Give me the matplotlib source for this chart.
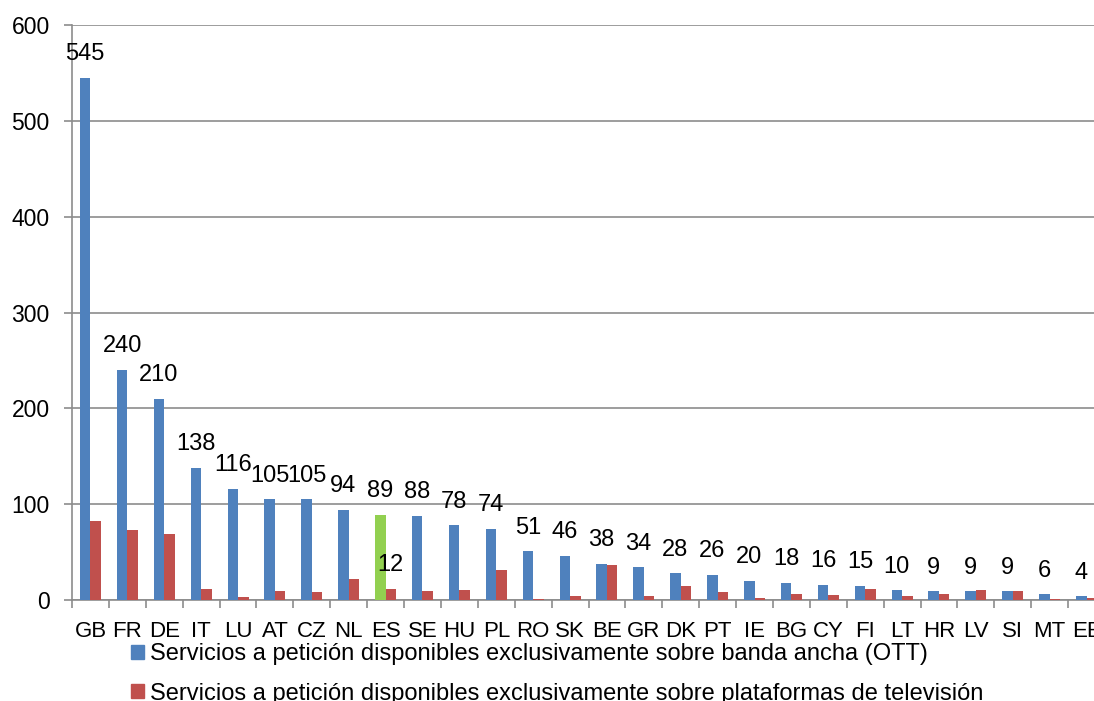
import numpy as np
import matplotlib.pyplot as plt
from matplotlib.patches import Patch

countries = ['GB', 'FR', 'DE', 'IT', 'LU', 'AT', 'CZ', 'NL', 'ES', 'SE', 'HU', 'PL', 'RO', 'SK',
             'BE', 'GR', 'DK', 'PT', 'IE', 'BG', 'CY', 'FI', 'LT', 'HR', 'LV', 'SI', 'MT', 'EE']
ott = [545, 240, 210, 138, 116, 105, 105, 94, 89, 88, 78, 74, 51, 46,
       38, 34, 28, 26, 20, 18, 16, 15, 10, 9, 9, 9, 6, 4]
tv = [82, 73, 69, 12, 3, 9, 8, 22, 12, 9, 10, 31, 1, 4,
      37, 4, 15, 8, 2, 6, 5, 12, 4, 6, 10, 9, 1, 2]
series_names = ['Servicios a petición disponibles exclusivamente sobre banda ancha (OTT)',
                'Servicios a petición disponibles exclusivamente sobre plataformas de televisión']

blue = '#4F81BD'
red = '#C0504D'
green = '#92D050'
grid = '#8C8C8C'

plt.rcParams['font.family'] = ['Liberation Sans', 'DejaVu Sans']

fig = plt.figure(figsize=(10.94, 7.01), dpi=100)
ax = fig.add_axes([72 / 1094, 101 / 701, 1033 / 1094, 575 / 701])

x = np.arange(len(countries))
w = 0.285
colors = [green if c == 'ES' else blue for c in countries]
ax.bar(x - w / 2, ott, w, color=colors, zorder=3)
ax.bar(x + w / 2, tv, w, color=red, zorder=3)

for i, v in enumerate(ott):
    ax.annotate(str(v), (x[i] - w / 2, v), xytext=(0, 17), textcoords='offset points',
                ha='center', va='center', fontsize=17)
i = countries.index('ES')
ax.annotate(str(tv[i]), (x[i] + w / 2, tv[i]), xytext=(0, 17), textcoords='offset points',
            ha='center', va='center', fontsize=17)

ax.set_xlim(-0.5, len(countries) - 0.5)
ax.set_ylim(0, 600)
ax.set_yticks(np.arange(0, 601, 100))
ax.yaxis.grid(True, color=grid, linewidth=1.2, zorder=0)
ax.tick_params(axis='y', labelsize=16.5, length=6, color=grid, width=1.2, pad=10)

ax.set_xticks(x)
ax.set_xticklabels(countries, fontsize=16)
ax.set_xticks(np.arange(-0.5, len(countries)), minor=True)
ax.tick_params(axis='x', which='major', length=0, pad=15)
ax.tick_params(axis='x', which='minor', length=6, color=grid, width=1.2)

for s in ['top', 'right']:
    ax.spines[s].set_visible(False)
for s in ['left', 'bottom']:
    ax.spines[s].set_color(grid)
    ax.spines[s].set_linewidth(1.2)

handles = [Patch(color=blue), Patch(color=red)]
fig.legend(handles, series_names, loc='upper left', bbox_to_anchor=(131 / 1094, 1 - 643 / 701),
           frameon=False, prop={'size': 17},
           handlelength=0.55, handleheight=0.55, handletextpad=0.25, labelspacing=0.75,
           borderaxespad=0, borderpad=0)

fig.savefig('out.png', dpi=100)
